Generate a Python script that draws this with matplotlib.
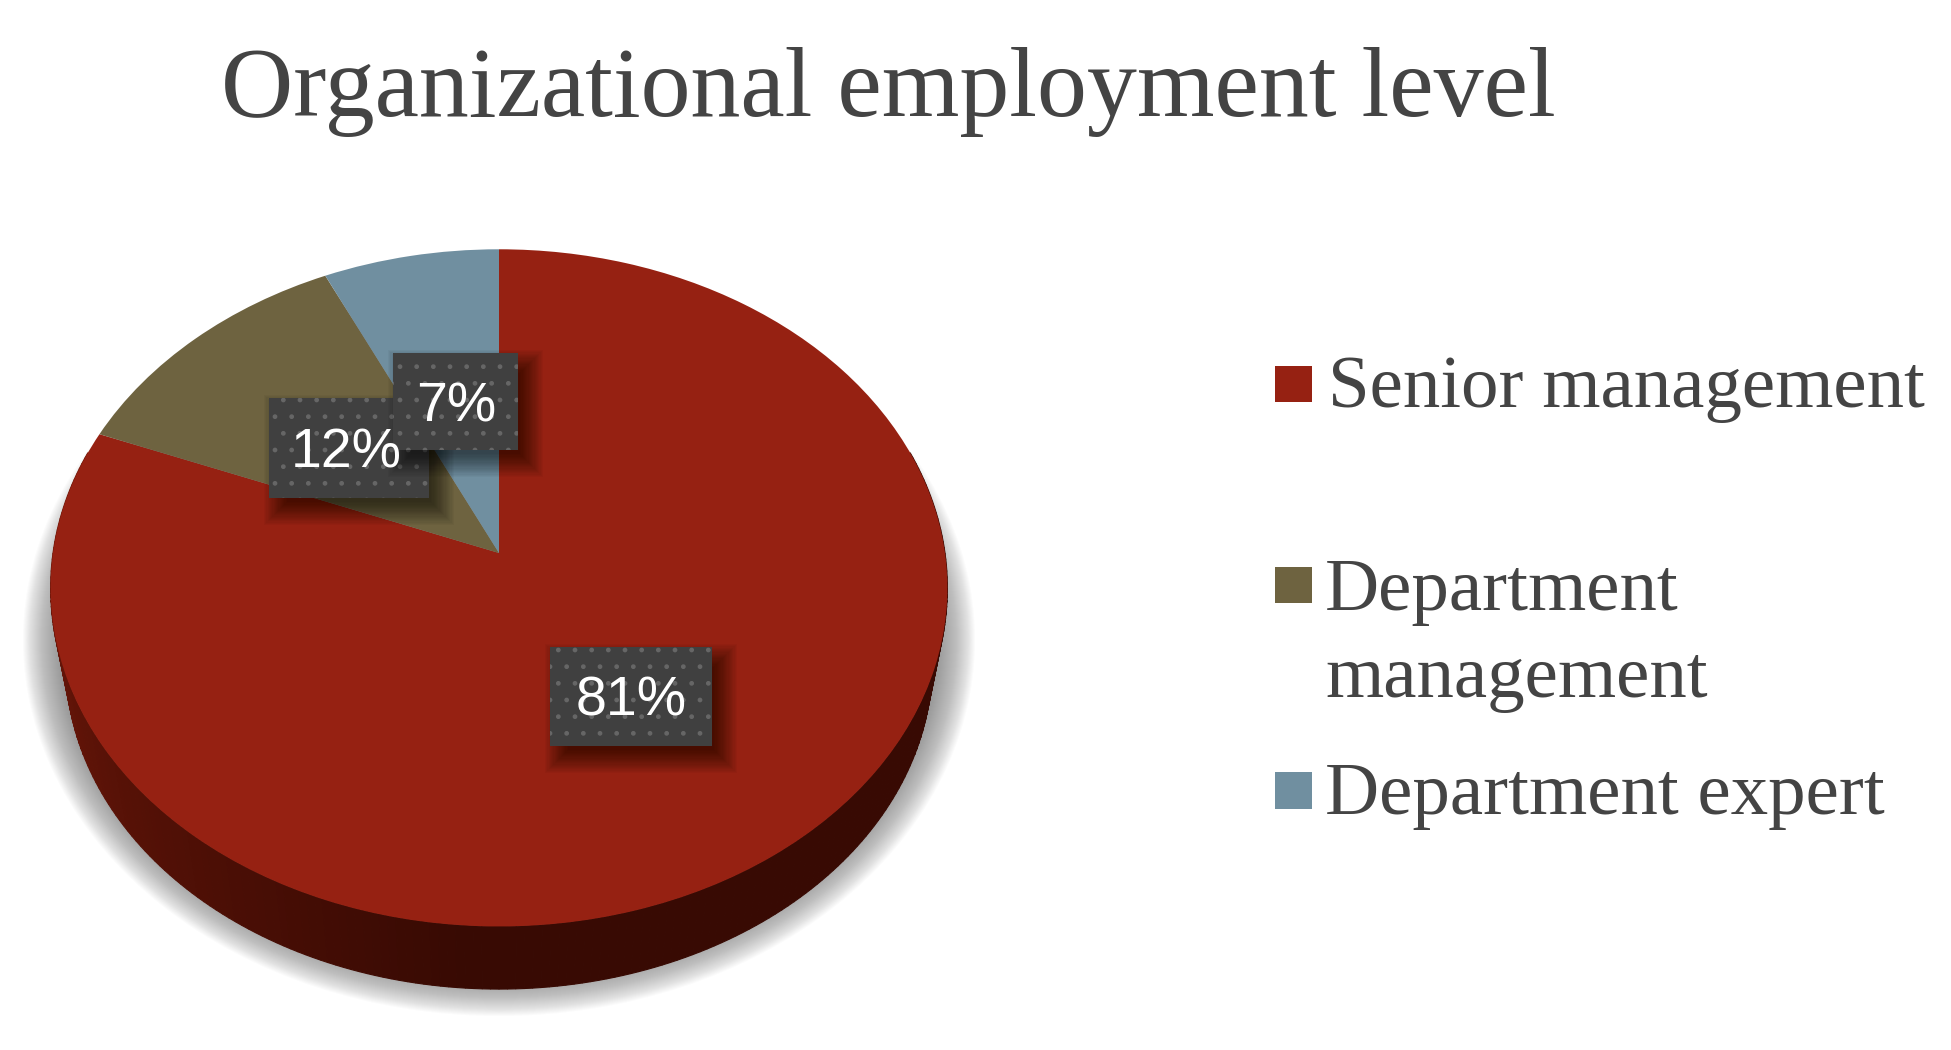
import numpy as np
import matplotlib
matplotlib.use("Agg")
import matplotlib.pyplot as plt
from matplotlib.patches import Rectangle, Ellipse, Polygon
from matplotlib.transforms import Transform

title = "Organizational employment level"
categories = ["Senior management", "Department\nmanagement", "Department expert"]
values = [81, 12, 7]
colors = ["#962112", "#6e6340", "#708fa0"]

W, H = 1951, 1050
SERIF = "Liberation Serif"
TXT = "#444444"

class Tilt(Transform):
    """Perspective view of the unit pie, drawn into pixel-like data units."""
    input_dims = output_dims = 2
    def __init__(self, cx, cy, rx, ry, k):
        super().__init__()
        self.p = cx, cy, rx, ry, k
    def transform_non_affine(self, v):
        cx, cy, rx, ry, k = self.p
        v = np.asarray(v, float)
        d = 1 + k * v[:, 1]
        return np.column_stack([cx + rx * v[:, 0] / d, cy - ry * v[:, 1] / d])

fig = plt.figure(figsize=(W / 100, H / 100), dpi=100, facecolor="white")
ax = fig.add_axes([0, 0, 1, 1])

CX, CY, RX, RY, K = 499, 553, 446, 335, 0.103
tilt = Tilt(CX, CY, RX, RY, K)
tilt_base = Tilt(CX, 629, 431, 323, K)

# soft ground shadow
for i in range(50):
    f = i / 49
    ax.add_patch(Ellipse((CX, 640), 2 * (476 - 48 * f), 2 * (376 - 48 * f),
                         fc="#777777", ec="none", alpha=0.027, zorder=1))

# side wall of the pie
th = np.linspace(np.pi * 0.9, 2.1 * np.pi, 217)
unit = np.column_stack([np.cos(th), np.sin(th)])
edge = tilt.transform_non_affine(unit)
base = tilt_base.transform_non_affine(unit)
light = np.array(matplotlib.colors.to_rgb("#6e1709"))
dark = np.array(matplotlib.colors.to_rgb("#380a03"))
for i in range(len(th) - 1):
    t = min(1, max(0, (i - 18) / 85))
    col = light * (1 - t) + dark * t
    ax.add_patch(Polygon([edge[i], edge[i + 1], base[i + 1], base[i]], closed=True,
                         fc=col, ec=col, lw=0.8, zorder=2))

wedges, _ = ax.pie(values, colors=colors, startangle=90, counterclock=False)
for w in wedges:
    w.set_transform(tilt + ax.transData)
    w.set_zorder(3)
    w.set_edgecolor("none")

ax.set_aspect("auto")
ax.set_xlim(0, W)
ax.set_ylim(H, 0)
ax.axis("off")
ax.set_position([0, 0, 1, 1])

# data labels: (left, top, right, bottom) boxes and text centres
boxes = {81: (550, 647, 712, 746), 12: (269, 398, 429, 498), 7: (393, 353, 518, 450)}
centres = {81: (631, 702), 12: (346, 454), 7: (456, 408)}
for order, v in enumerate([81, 12, 7]):
    x0, y0, x1, y1 = boxes[v]
    z = 5 + order
    for s in range(20):
        g = 30 - 2.4 * s
        ax.add_patch(Rectangle((x0 + 10 - g / 2, y0 + 12 - g / 2), x1 - x0 + g, y1 - y0 + g,
                               fc="black", ec="none", alpha=0.03, zorder=z))
    ax.add_patch(Rectangle((x0, y0), x1 - x0, y1 - y0, fc="#404040", ec="#666666",
                           lw=0, hatch=".", zorder=z + 0.1))
    ax.text(*centres[v], f"{v}%", color="white", ha="center", va="center",
            fontsize=40, family="Liberation Sans", zorder=8)

# title
ax.text(221, 116, title, family=SERIF, fontsize=71.9, color=TXT, ha="left", va="baseline", zorder=9)

# legend
squares = [(366, 402), (567, 603), (772, 809)]
legend_pos = [[(1328, 407)], [(1325, 610), (1325, 697)], [(1325, 814)]]
for c, lab, (y0, y1), pos in zip(colors, categories, squares, legend_pos):
    ax.add_patch(Rectangle((1275, y0), 37, y1 - y0, fc=c, ec="none", zorder=9))
    for line, (x, y) in zip(lab.split("\n"), pos):
        ax.text(x, y, line, family=SERIF, fontsize=53.9, color=TXT, ha="left", va="baseline", zorder=9)

fig.savefig("out.png", dpi=100, facecolor="white")
